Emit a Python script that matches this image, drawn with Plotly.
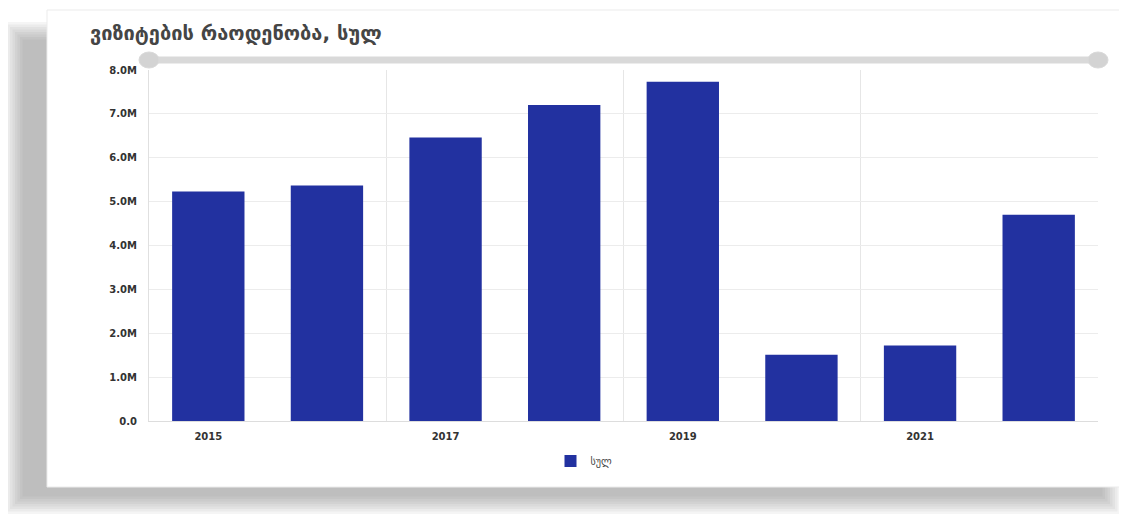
import plotly.graph_objects as go

# ---- data ----
years = [2015, 2016, 2017, 2018, 2019, 2020, 2021, 2022]
visits = [5.23e6, 5.37e6, 6.46e6, 7.20e6, 7.73e6, 1.51e6, 1.72e6, 4.70e6]
series_name = "სულ"
title_text = "ვიზიტების რაოდენობა, სულ"
xtick_vals = [2015, 2017, 2019, 2021]
ytick_vals = [0, 1e6, 2e6, 3e6, 4e6, 5e6, 6e6, 7e6, 8e6]
ytick_text = ["0.0", "1.0M", "2.0M", "3.0M", "4.0M", "5.0M", "6.0M", "7.0M", "8.0M"]

# ---- layout geometry (pixels in the reference frame) ----
OFF = 8                      # page body margin offset
W, H = 1127 - OFF, 514 - OFF
PL, PR, PT, PB = 149, 1098, 70, 421


def px(x):
    return (x - PL) / (PR - PL)


def py(y):
    return (PB - y) / (PB - PT)


BAR = "#2231a0"

fig = go.Figure()
fig.add_trace(go.Bar(
    x=years, y=visits, name=series_name,
    marker=dict(color=BAR, line=dict(width=0)),
    showlegend=True,
))

shapes = []
# blurred shadow behind the card (offset to lower-left)
for i in range(8):
    d = i * 2.5
    shapes.append(dict(type="rect", xref="paper", yref="paper", layer="below",
                       x0=px(5 + d), x1=px(1120 - d), y0=py(514 - d), y1=py(22 + d),
                       fillcolor="rgba(120,120,120,0.075)", line=dict(width=0)))
# white card
shapes.append(dict(type="rect", xref="paper", yref="paper", layer="below",
                   x0=px(47), x1=px(1121), y0=py(487), y1=py(10),
                   fillcolor="white", line=dict(color="#ebebeb", width=1)))
# slider track
shapes.append(dict(type="line", xref="paper", yref="paper", layer="above",
                   x0=0, x1=1, y0=py(60), y1=py(60),
                   line=dict(color="#d9d9d9", width=7)))
# slider handles
for hx in (0, 1):
    shapes.append(dict(type="circle", xref="paper", yref="paper", layer="above",
                       xsizemode="pixel", ysizemode="pixel",
                       xanchor=hx, yanchor=py(60),
                       x0=-10, x1=10, y0=-8, y1=8,
                       fillcolor="#d3d3d3", line=dict(color="#d9d9d9", width=1)))

fig.update_layout(
    width=W, height=H,
    margin=dict(l=PL - OFF, r=1127 - PR, t=PT - OFF, b=514 - PB, pad=0),
    paper_bgcolor="white",
    plot_bgcolor="rgba(0,0,0,0)",
    bargap=0.39,
    shapes=shapes,
    title=dict(text=title_text, x=(90 - OFF) / W, xanchor="left",
               y=1 - (33 - OFF) / H, yanchor="middle",
               font=dict(family="DejaVu Sans", size=20, color="#454545", weight="bold")),
    legend=dict(orientation="h", x=px(584), xanchor="center", y=py(461), yanchor="middle",
                font=dict(family="DejaVu Sans", size=10, color="#444444"),
                bgcolor="rgba(0,0,0,0)"),
    xaxis=dict(range=[2014.5, 2022.5], tickmode="array", tickvals=xtick_vals,
               ticktext=[str(v) for v in xtick_vals],
               showgrid=False, zeroline=False,
               showline=True, linecolor="#dddddd", linewidth=1, mirror=False,
               ticks="", ticklabelstandoff=6,
               tickfont=dict(family="DejaVu Sans", size=10, color="#333333", weight="bold"),
               minor=dict(tick0=2014.5, dtick=2, showgrid=True, gridcolor="#e6e6e6",
                          gridwidth=1, ticks="")),
    yaxis=dict(range=[0, 8e6], tickmode="array", tickvals=ytick_vals, ticktext=ytick_text,
               showgrid=True, gridcolor="#ececec", gridwidth=1, zeroline=False,
               showline=True, linecolor="#e0e0e0", linewidth=1,
               ticks="", ticklabelstandoff=9,
               tickfont=dict(family="DejaVu Sans", size=10, color="#333333", weight="bold")),
)

fig.write_html("out.html")
